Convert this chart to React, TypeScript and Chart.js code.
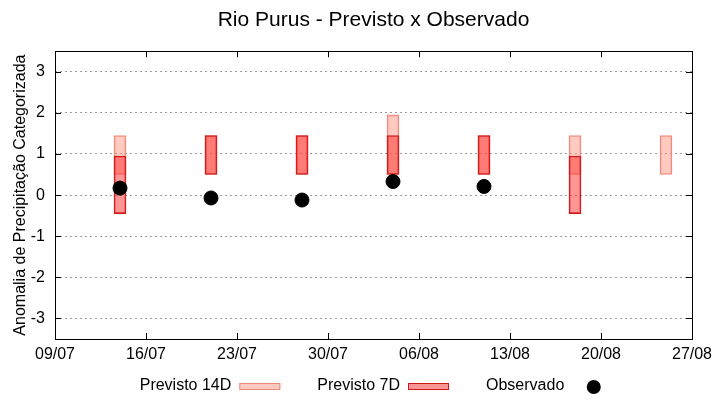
import React, { useEffect, useRef } from 'react'
import { Chart, registerables } from 'chart.js'

Chart.register(...registerables)

// dates are dd/mm, counted in days from startDate on the x axis
const startDate = '09/07'
const dates = ['14/07', '21/07', '28/07', '04/08', '11/08', '18/08', '25/08']
const prev14Low = [0.5, 0.5, 0.5, 0.5, 0.5, 0.5, 0.5]
const prev14High = [1.45, 1.45, 1.45, 1.95, 1.45, 1.45, 1.45]
const prev7Low = [-0.45, 0.5, 0.5, 0.5, 0.5, -0.45, null]
const prev7High = [0.95, 1.45, 1.45, 1.45, 1.45, 0.95, null]
const observed = [0.17, -0.07, -0.12, 0.33, 0.21, null, null]
const xTickLabels = ['09/07', '16/07', '23/07', '30/07', '06/08', '13/08', '20/08', '27/08']
const yTickLabels = [-3, -2, -1, 0, 1, 2, 3]

const c14Fill = 'rgba(255,150,130,0.5)'
const c14Border = 'rgba(232,130,115,0.9)'
const c7Fill = 'rgba(255,45,45,0.5)'
const c7Border = '#cc1a1a'

const toDay = (s: string) => {
  const [d, m] = s.split('/').map(Number)
  const [d0, m0] = startDate.split('/').map(Number)
  return Math.round((Date.UTC(2024, m - 1, d) - Date.UTC(2024, m0 - 1, d0)) / 86400000)
}

const dayToLabel = (v: number) => {
  const [d0, m0] = startDate.split('/').map(Number)
  const dt = new Date(Date.UTC(2024, m0 - 1, d0 + v))
  const dd = String(dt.getUTCDate()).padStart(2, '0')
  const mm = String(dt.getUTCMonth() + 1).padStart(2, '0')
  return `${dd}/${mm}`
}

const floatBars = (low: (number | null)[], high: (number | null)[]) =>
  dates
    .map((d, i) => ({ x: toDay(d), y: [low[i], high[i]] }))
    .filter((p) => p.y[0] !== null && p.y[1] !== null)

const framePlugin = {
  id: 'frame',
  afterDatasetsDraw(chart: any) {
    const { ctx, chartArea: a, scales } = chart
    ctx.save()
    ctx.strokeStyle = '#000'
    ctx.lineWidth = 1
    ctx.setLineDash([])
    ctx.beginPath()
    const tl = 6
    scales.y.ticks.forEach((t: any) => {
      const py = Math.round(scales.y.getPixelForValue(t.value)) + 0.5
      ctx.moveTo(a.left, py)
      ctx.lineTo(a.left + tl, py)
      ctx.moveTo(a.right, py)
      ctx.lineTo(a.right - tl, py)
    })
    scales.x.ticks.forEach((t: any) => {
      const px = Math.round(scales.x.getPixelForValue(t.value)) + 0.5
      ctx.moveTo(px, a.bottom)
      ctx.lineTo(px, a.bottom - tl)
      ctx.moveTo(px, a.top)
      ctx.lineTo(px, a.top + tl)
    })
    ctx.stroke()
    ctx.strokeRect(Math.round(a.left) + 0.5, Math.round(a.top) + 0.5, Math.round(a.right - a.left), Math.round(a.bottom - a.top))
    ctx.restore()
  },
}

const legendPlugin = {
  id: 'bottomLegend',
  afterDraw(chart: any) {
    const { ctx, chartArea: a } = chart
    const items = [
      { text: 'Previsto 14D', kind: 'box', fill: c14Fill, stroke: c14Border },
      { text: 'Previsto 7D', kind: 'box', fill: c7Fill, stroke: c7Border },
      { text: 'Observado', kind: 'dot', fill: '#000', stroke: '#000' },
    ]
    const sampleW = 41
    const gap = 8
    const entryGap = 37
    const y = 386
    ctx.save()
    ctx.font = '16px "Liberation Sans", Arial, sans-serif'
    ctx.textBaseline = 'middle'
    ctx.textAlign = 'left'
    const widths = items.map((it) => ctx.measureText(it.text).width + gap + sampleW)
    const total = widths.reduce((s, w) => s + w, 0) + entryGap * (items.length - 1)
    let x = (a.left + a.right) / 2 - total / 2 + 3
    items.forEach((it, i) => {
      ctx.fillStyle = '#000'
      ctx.fillText(it.text, x, y)
      const sx = x + ctx.measureText(it.text).width + gap
      if (it.kind === 'box') {
        ctx.fillStyle = it.fill
        ctx.fillRect(sx, y - 3, sampleW, 6)
        ctx.strokeStyle = it.stroke
        ctx.lineWidth = 1
        ctx.strokeRect(sx + 0.5, y - 3 + 0.5, sampleW - 1, 6)
      } else {
        ctx.fillStyle = it.fill
        ctx.beginPath()
        ctx.arc(sx + sampleW / 2 + 1, y + 1, 7, 0, Math.PI * 2)
        ctx.fill()
      }
      x += widths[i] + entryGap
    })
    ctx.restore()
  },
}

const App = () => {
  const chartRef = useRef<HTMLCanvasElement>(null)

  useEffect(() => {
    document.body.style.margin = '0'
    if (!chartRef.current) return
    const ctx = chartRef.current.getContext('2d')
    if (!ctx) return

    Chart.defaults.font.family = '"Liberation Sans", Arial, sans-serif'
    Chart.defaults.font.size = 16
    Chart.defaults.color = '#000'

    const chart = new Chart(ctx, {
      type: 'bar',
      data: {
        datasets: [
          {
            type: 'line',
            label: 'Observado',
            data: dates
              .map((d, i) => ({ x: toDay(d), y: observed[i] }))
              .filter((p) => p.y !== null),
            showLine: false,
            pointRadius: 7,
            pointHoverRadius: 7,
            pointBackgroundColor: '#000',
            pointBorderColor: '#000',
            order: 0,
          } as any,
          {
            label: 'Previsto 7D',
            data: floatBars(prev7Low, prev7High),
            backgroundColor: c7Fill,
            borderColor: c7Border,
            borderWidth: 1,
            borderSkipped: false,
            barThickness: 12,
            grouped: false,
            order: 1,
          } as any,
          {
            label: 'Previsto 14D',
            data: floatBars(prev14Low, prev14High),
            backgroundColor: c14Fill,
            borderColor: c14Border,
            borderWidth: 1,
            borderSkipped: false,
            barThickness: 12,
            grouped: false,
            order: 2,
          } as any,
        ],
      },
      options: {
        responsive: false,
        animation: false,
        layout: { padding: { left: 0, right: 28, top: 0, bottom: 0 } },
        plugins: {
          legend: { display: false },
          tooltip: { enabled: false },
          title: {
            display: true,
            text: 'Rio Purus - Previsto x Observado',
            font: { size: 21, weight: 'normal' },
            color: '#000',
            padding: { top: 8, bottom: 18 },
            fullSize: false,
          },
        },
        scales: {
          x: {
            type: 'linear',
            min: toDay(xTickLabels[0]),
            max: toDay(xTickLabels[xTickLabels.length - 1]),
            offset: false,
            afterBuildTicks: (s: any) => {
              s.ticks = xTickLabels.map((l) => ({ value: toDay(l) }))
            },
            afterFit: (s: any) => {
              s.height = 61
            },
            ticks: {
              callback: (v: any) => dayToLabel(Number(v)),
              maxRotation: 0,
              autoSkip: false,
              padding: 6,
              color: '#000',
            },
            grid: { display: false, drawTicks: false },
            border: { display: false },
          },
          y: {
            min: -3.5,
            max: 3.5,
            afterBuildTicks: (s: any) => {
              s.ticks = yTickLabels.map((v) => ({ value: v }))
            },
            afterFit: (s: any) => {
              s.width = 55
            },
            ticks: { padding: 10, color: '#000' },
            grid: { color: '#9a9a9a', lineWidth: 1, drawTicks: false },
            border: { display: false, dash: [2, 3] },
            title: {
              display: true,
              text: 'Anomalia de Precipitação Categorizada',
              font: { size: 16 },
              color: '#000',
              padding: { top: 11, bottom: 0 },
            },
          },
        },
      },
      plugins: [framePlugin, legendPlugin],
    })

    return () => {
      chart.destroy()
    }
  }, [])

  return (
    <div style={{ width: 720, height: 400 }}>
      <canvas ref={chartRef} width={720} height={400} />
    </div>
  )
}

export default App
